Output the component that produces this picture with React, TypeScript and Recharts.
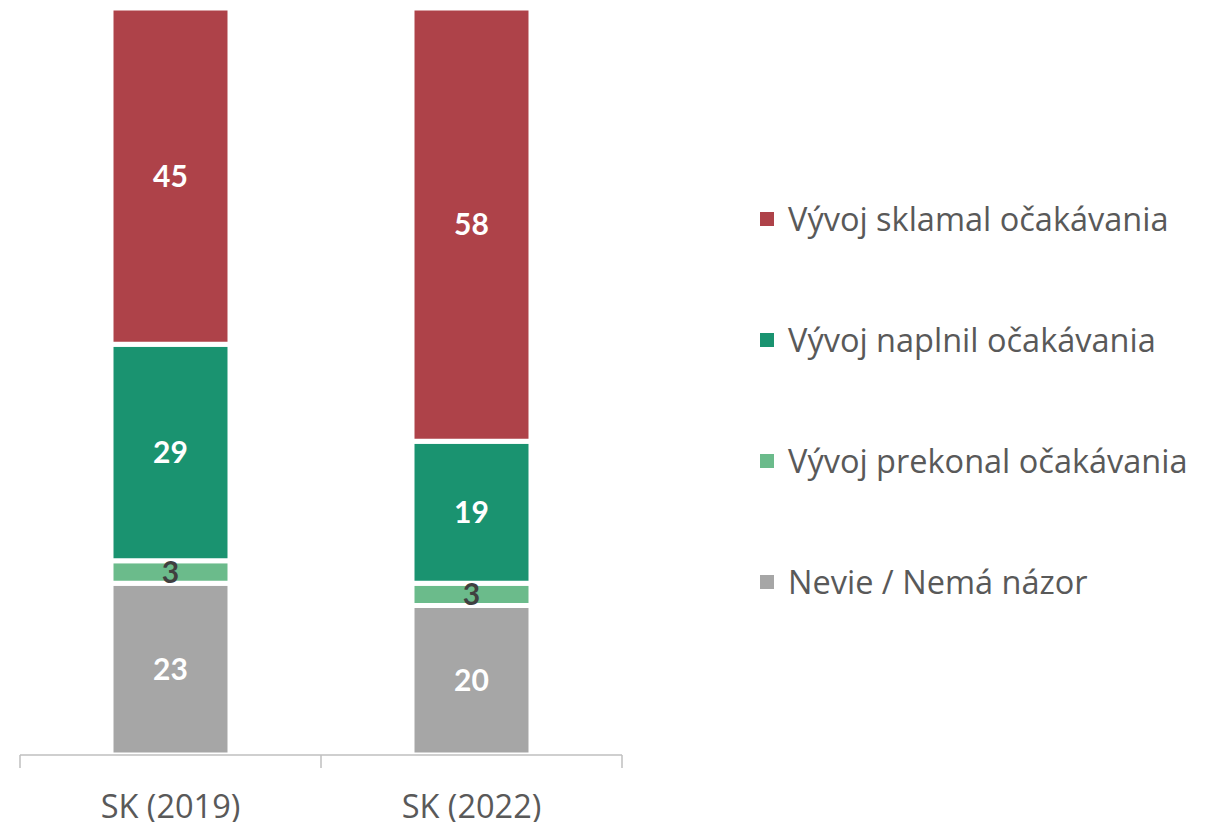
import React from 'react';
import { BarChart, Bar, XAxis, YAxis, LabelList } from 'recharts';

const categories = ['SK (2019)', 'SK (2022)'];
const nevie = [23, 20];
const prekonal = [3, 3];
const naplnil = [29, 19];
const sklamal = [45, 58];

const seriesNames = {
  nevie: 'Nevie / Nemá názor',
  prekonal: 'Vývoj prekonal očakávania',
  naplnil: 'Vývoj naplnil očakávania',
  sklamal: 'Vývoj sklamal očakávania',
};
const colors = {
  nevie: '#A6A6A6',
  prekonal: '#6BBB8B',
  naplnil: '#1A9370',
  sklamal: '#AE4249',
};
const legendOrder = ['sklamal', 'naplnil', 'prekonal', 'nevie'] as const;

const data = categories.map((c, i) => ({
  name: c,
  nevie: nevie[i],
  prekonal: prekonal[i],
  naplnil: naplnil[i],
  sklamal: sklamal[i],
}));

const FONT = '"Open Sans", Lato, sans-serif';
const LFONT = 'Lato, "Open Sans", sans-serif';
const TEXT = '#595959';
const AXIS = '#BFBFBF';

const CatTick = (props: any) => {
  const { x, y, payload, index, visibleTicksCount } = props;
  const off = payload.offset || 0;
  const last = index === (visibleTicksCount ?? categories.length) - 1;
  return (
    <g>
      <line x1={x - off} x2={x - off} y1={y - 8} y2={y + 5} stroke={AXIS} strokeWidth={1.5} />
      {last && <line x1={x + off} x2={x + off} y1={y - 8} y2={y + 5} stroke={AXIS} strokeWidth={1.5} />}
      <text x={x} y={y + 55} textAnchor="middle" fill={TEXT} fontSize={32.5} fontFamily={FONT}>
        {payload.value}
      </text>
    </g>
  );
};

export default function App() {
  const keys = ['nevie', 'prekonal', 'naplnil', 'sklamal'] as const;
  return (
    <div style={{ position: 'absolute', left: 0, top: 0, width: 1213, height: 822, background: '#fff' }}>
      <BarChart width={1213} height={822} data={data} margin={{ top: 8, right: 591, left: 20, bottom: 0 }}>
        <XAxis
          dataKey="name"
          height={67}
          axisLine={{ stroke: AXIS, strokeWidth: 1.5 }}
          tickLine={false}
          tick={<CatTick />}
          interval={0}
        />
        <YAxis hide domain={[0, 100]} />
        {keys.map((k) => (
          <Bar
            key={k}
            dataKey={k}
            name={seriesNames[k]}
            stackId="a"
            fill={colors[k]}
            stroke="#fff"
            strokeWidth={5}
            barSize={119}
            isAnimationActive={false}
          >
            <LabelList
              dataKey={k}
              position="center"
              fill={k === 'prekonal' ? '#404040' : '#fff'}
              fontSize={30}
              fontWeight="bold"
              fontFamily={LFONT}
            />
          </Bar>
        ))}
      </BarChart>
      <div style={{ position: 'absolute', left: 760, top: 158, fontFamily: FONT }}>
        {legendOrder.map((k) => (
          <div key={k} style={{ height: 121, display: 'flex', alignItems: 'center' }}>
            <span style={{ width: 14, height: 14, background: colors[k], display: 'inline-block', marginRight: 14 }} />
            <span style={{ fontSize: 32.5, color: TEXT, whiteSpace: 'nowrap' }}>{seriesNames[k]}</span>
          </div>
        ))}
      </div>
    </div>
  );
}
